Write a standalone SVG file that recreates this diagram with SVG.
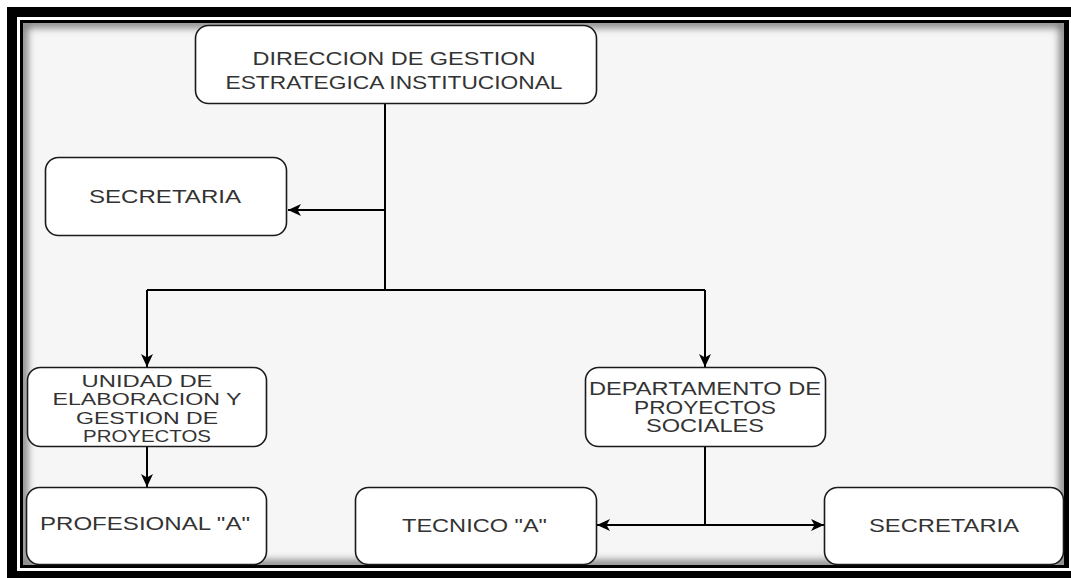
<svg xmlns="http://www.w3.org/2000/svg" width="1071" height="578" viewBox="0 0 1071 578">
  <style>
    .node rect { fill: #ffffff; stroke: #1a1a1a; stroke-width: 1.6; }
    .node text { font-family: "Liberation Sans", Arial, sans-serif; fill: #333333; text-anchor: middle; }
    .edge { fill: none; stroke: #000000; stroke-width: 2; }
  </style>
  <defs>
    <marker id="arrow" markerUnits="userSpaceOnUse" markerWidth="14" markerHeight="12" viewBox="0 0 14 12" refX="13" refY="6" orient="auto">
      <path d="M0,0 L13,6 L0,12 L3.5,6 Z" fill="#000000"/>
    </marker>
    <clipPath id="innerClip">
      <rect x="23" y="23" width="1041" height="542"/>
    </clipPath>
    <filter id="blur" x="-5%" y="-5%" width="110%" height="110%">
      <feGaussianBlur stdDeviation="4"/>
    </filter>
  </defs>

  <!-- frame -->
  <g id="frame">
    <rect x="7" y="7" width="1064" height="571" fill="#000000"/>
    <rect x="17" y="17" width="1054" height="554" fill="#ffffff"/>
    <rect x="20" y="20" width="1049" height="548" fill="#000000"/>
    <rect x="23" y="23" width="1041" height="542" fill="#f6f6f6"/>
    <g clip-path="url(#innerClip)">
      <rect x="23" y="23" width="1041" height="542" fill="none" stroke="#6a6a6a" stroke-width="8" filter="url(#blur)"/>
    </g>
  </g>

  <!-- connectors -->
  <g id="connectors">
    <path class="edge" d="M385,103 L385,290"/>
    <path class="edge" d="M385,210 L288,210" marker-end="url(#arrow)"/>
    <path class="edge" d="M147,290 L705,290"/>
    <path class="edge" d="M147,290 L147,367" marker-end="url(#arrow)"/>
    <path class="edge" d="M705,290 L705,367" marker-end="url(#arrow)"/>
    <path class="edge" d="M147,447 L147,487" marker-end="url(#arrow)"/>
    <path class="edge" d="M705,447 L705,525"/>
    <path class="edge" d="M705,525 L597,525" marker-end="url(#arrow)"/>
    <path class="edge" d="M705,525 L824,525" marker-end="url(#arrow)"/>
  </g>

  <!-- nodes -->
  <g id="n-direccion" class="node">
    <rect x="195.5" y="25.5" width="401" height="78" rx="13" ry="13"/>
    <text x="394" y="64.5" font-size="18.5" textLength="283" lengthAdjust="spacingAndGlyphs">DIRECCION DE GESTION</text>
    <text x="394" y="88.5" font-size="18.5" textLength="337" lengthAdjust="spacingAndGlyphs">ESTRATEGICA INSTITUCIONAL</text>
  </g>

  <g id="n-secretaria1" class="node">
    <rect x="45.5" y="157.5" width="241" height="78" rx="13" ry="13"/>
    <text x="165" y="202.5" font-size="18" textLength="152" lengthAdjust="spacingAndGlyphs">SECRETARIA</text>
  </g>

  <g id="n-unidad" class="node">
    <rect x="27.5" y="367.5" width="239" height="79" rx="13" ry="13"/>
    <text x="147" y="386.5" font-size="17" textLength="131" lengthAdjust="spacingAndGlyphs">UNIDAD DE</text>
    <text x="147" y="405" font-size="17" textLength="189" lengthAdjust="spacingAndGlyphs">ELABORACION Y</text>
    <text x="147" y="423.5" font-size="17" textLength="142" lengthAdjust="spacingAndGlyphs">GESTION DE</text>
    <text x="147" y="442" font-size="17" textLength="128" lengthAdjust="spacingAndGlyphs">PROYECTOS</text>
  </g>

  <g id="n-profesional" class="node">
    <rect x="26.5" y="487.5" width="240" height="77" rx="13" ry="13"/>
    <text x="145" y="529.5" font-size="18" textLength="210" lengthAdjust="spacingAndGlyphs">PROFESIONAL "A"</text>
  </g>

  <g id="n-departamento" class="node">
    <rect x="585.5" y="367.5" width="240" height="79" rx="13" ry="13"/>
    <text x="705" y="394.5" font-size="17.5" textLength="232" lengthAdjust="spacingAndGlyphs">DEPARTAMENTO DE</text>
    <text x="705" y="413.5" font-size="17.5" textLength="142" lengthAdjust="spacingAndGlyphs">PROYECTOS</text>
    <text x="705" y="431.5" font-size="17.5" textLength="118" lengthAdjust="spacingAndGlyphs">SOCIALES</text>
  </g>

  <g id="n-tecnico" class="node">
    <rect x="355.5" y="487.5" width="241" height="77" rx="13" ry="13"/>
    <text x="474.5" y="531.5" font-size="18" textLength="145" lengthAdjust="spacingAndGlyphs">TECNICO "A"</text>
  </g>

  <g id="n-secretaria2" class="node">
    <rect x="824.5" y="487.5" width="239" height="77" rx="13" ry="13"/>
    <text x="944" y="531.5" font-size="18" textLength="150" lengthAdjust="spacingAndGlyphs">SECRETARIA</text>
  </g>
</svg>
